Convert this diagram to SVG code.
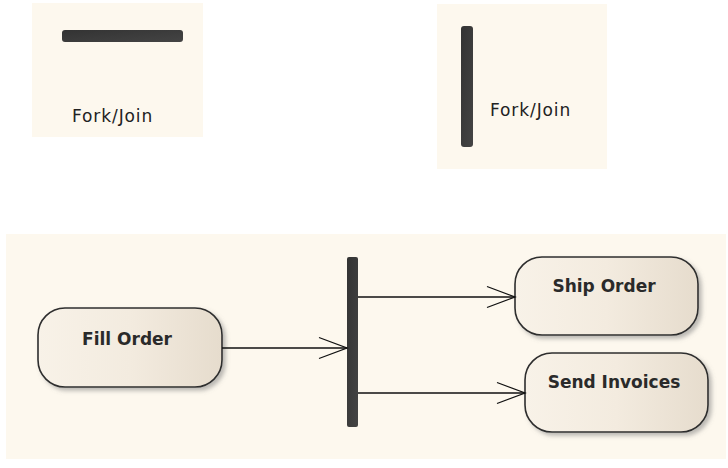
<svg xmlns="http://www.w3.org/2000/svg" width="728" height="468" viewBox="0 0 728 468">
<style>
.panel{fill:#fdf8ee;}
.bar{fill:url(#barGrad);}
.node{fill:url(#nodeGrad);stroke:#2e2e2e;stroke-width:1.6;filter:url(#shadow);}
.lbl{font-family:"DejaVu Sans",sans-serif;font-size:17px;letter-spacing:0.9px;fill:#222;}
.nlbl{font-family:"DejaVu Sans",sans-serif;font-size:17px;font-weight:bold;fill:#2a2a2a;text-anchor:middle;}
.conn{stroke:#111;stroke-width:1.3;fill:none;marker-end:url(#open);}
</style>
<defs>
<linearGradient id="nodeGrad" x1="0" y1="0" x2="1" y2="0">
<stop offset="0" stop-color="#f8f2e8"/>
<stop offset="0.5" stop-color="#f3ebdf"/>
<stop offset="1" stop-color="#e6dccd"/>
</linearGradient>
<linearGradient id="barGrad" x1="0" y1="0" x2="1" y2="1">
<stop offset="0" stop-color="#333"/>
<stop offset="1" stop-color="#444"/>
</linearGradient>
<filter id="shadow" x="-10%" y="-10%" width="125%" height="135%">
<feDropShadow dx="3" dy="3" stdDeviation="2" flood-color="#777" flood-opacity="0.5"/>
</filter>
<marker id="open" markerUnits="userSpaceOnUse" markerWidth="32" markerHeight="26" refX="29" refY="12" orient="auto">
<path d="M1,1.5 L29,12 L1,22.5" fill="none" stroke="#111" stroke-width="1.3"/>
</marker>
</defs>

<g id="forkjoin-horizontal">
<rect class="panel" x="32" y="3" width="171" height="134"/>
<rect class="bar" x="62" y="30" width="121" height="12" rx="3"/>
<text class="lbl" x="72" y="122">Fork/Join</text>
</g>

<g id="forkjoin-vertical">
<rect class="panel" x="437" y="4" width="170" height="165"/>
<rect class="bar" x="461" y="26" width="12" height="121" rx="3"/>
<text class="lbl" x="490" y="116">Fork/Join</text>
</g>

<g id="example-panel">
<rect class="panel" x="6" y="234" width="720" height="225"/>
</g>

<g id="fill-order">
<rect class="node" x="38" y="308" width="184" height="79" rx="27"/>
<text class="nlbl" x="127" y="345">Fill Order</text>
</g>

<g id="fork">
<rect class="bar" x="347" y="257" width="11" height="170" rx="2"/>
</g>

<g id="ship-order">
<rect class="node" x="515" y="257" width="183" height="78" rx="27"/>
<text class="nlbl" x="604" y="292">Ship Order</text>
</g>

<g id="send-invoices">
<rect class="node" x="525" y="353" width="183" height="79" rx="27"/>
<text class="nlbl" x="614" y="388">Send Invoices</text>
</g>

<g id="connectors">
<path class="conn" d="M222,348 H347"/>
<path class="conn" d="M358,297 H515"/>
<path class="conn" d="M358,393 H525"/>
</g>
</svg>
